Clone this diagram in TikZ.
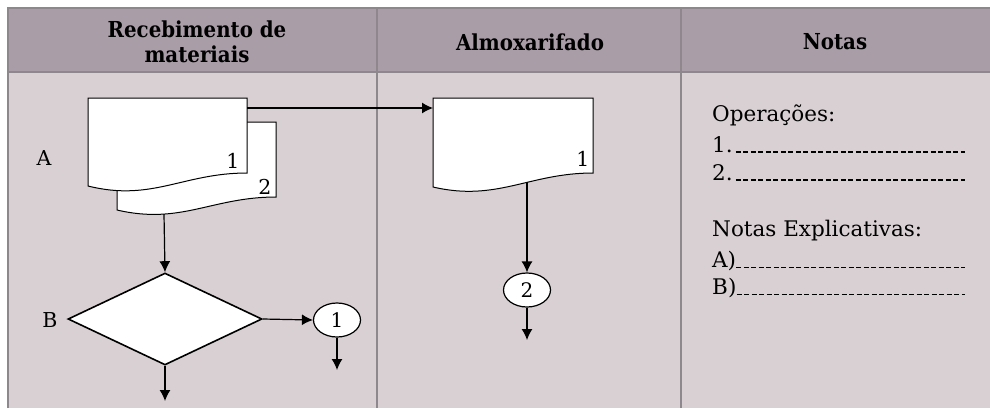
\documentclass[tikz,border=0pt]{standalone}
\usepackage{fontspec}
\setmainfont{DejaVu Serif}
\newfontfamily\headfont{DejaVu Serif Condensed}
\usepackage{xcolor}
\usetikzlibrary{shapes.geometric, arrows.meta, positioning}

\definecolor{headbg}{HTML}{A99DA7}
\definecolor{bodybg}{HTML}{D9D0D4}
\definecolor{rulegray}{HTML}{8E878C}

\tikzset{
  docshape/.style={draw=black, fill=white, line width=1pt},
  flow/.style={->, line width=1.2pt},
  decision/.style={diamond, draw, fill=white, line width=1.6pt, minimum width=194pt, minimum height=92pt, inner sep=0pt},
  connector/.style={ellipse, draw, fill=white, line width=1.2pt, minimum width=47pt, minimum height=34pt, inner sep=0pt, font=\fontsize{20}{20}\selectfont},
  headtxt/.style={align=center, font=\headfont\bfseries\fontsize{22}{25}\selectfont},
  notetxt/.style={anchor=base west, inner sep=0pt, font=\fontsize{21.5}{24}\selectfont},
  marktxt/.style={inner sep=0pt, font=\fontsize{20.5}{20}\selectfont},
  blank/.style={line width=1.4pt, dash pattern=on 5pt off 2.5pt},
  blankthin/.style={line width=1pt, dash pattern=on 5pt off 2.5pt},
}

\begin{document}
\begin{tikzpicture}[x=1pt, y=-1pt, >={Latex[length=11pt, width=11pt]}]
    \useasboundingbox (0,0) rectangle (990,408);

    % 1. Fundo, cabeçalho e colunas
    \fill[white] (0,0) rectangle (990,408);
    \fill[headbg] (8,8) rectangle (990,72);
    \fill[bodybg] (8,72) rectangle (990,408);
    \draw[rulegray, line width=1.5pt] (8,408) -- (8,8) -- (990,8);
    \draw[rulegray, line width=1.5pt] (8,72) -- (990,72);
    \draw[rulegray, line width=1.8pt] (377,8) -- (377,408);
    \draw[rulegray, line width=1.8pt] (681,8) -- (681,408);

    \node[headtxt] (hrec) at (197,42) {Recebimento de\\materiais};
    \node[headtxt] (halm) at (530,42) {Almoxarifado};
    \node[headtxt] (hnot) at (835,42) {Notas};

    % 2. Documento em duas vias (Recebimento)
    \draw[docshape] (117,122) -- (276,122) -- (276,197)
      .. controls (212,197) and (181,225) .. (117,210) -- cycle;
    \draw[docshape] (88,98) -- (247,98) -- (247,173)
      .. controls (183,173) and (152,202) .. (88,186) -- cycle;
    \node[marktxt] (via1) at (233,161) {1};
    \node[marktxt] (via2) at (265,187) {2};
    \node[marktxt] (lblA) at (44,158) {A};

    % 3. Decisão e conector 1
    \node[decision] (chk) at (165,319) {};
    \node[marktxt] (lblB) at (50,320) {B};
    \node[connector] (c1) at (337,320) {1};
    \coordinate (docbot) at (164,214);
    \coordinate (chkout) at (165,401);
    \coordinate (c1out) at (337,370);
    \draw[flow] (docbot) -- (chk.north);
    \draw[flow] (chk.east) -- (c1.west);
    \draw[flow] (c1.south) -- (c1out);
    \draw[flow] (chk.south) -- (chkout);

    % 4. Documento no Almoxarifado e conector 2
    \draw[docshape] (433,98) -- (593,98) -- (593,173)
      .. controls (529,173) and (497,202) .. (433,187) -- cycle;
    \node[marktxt] (alm1) at (583,159) {1};
    \coordinate (docout) at (247,108);
    \coordinate (almin) at (433,108);
    \coordinate (almbot) at (527,182);
    \draw[flow] (docout) -- (almin);
    \node[connector] (c2) at (527,290) {2};
    \coordinate (c2out) at (527,340);
    \draw[flow] (almbot) -- (c2.north);
    \draw[flow] (c2.south) -- (c2out);

    % 5. Notas
    \coordinate (rend) at (965,0);
    \node[notetxt] (ops) at (712,121) {Operações:};
    \node[notetxt] (op1) at (712,152) {1.};
    \node[notetxt] (op2) at (712,180) {2.};
    \node[notetxt] (exp) at (712,236) {Notas Explicativas:};
    \node[notetxt] (nA) at (712,267) {A)};
    \node[notetxt] (nB) at (712,294) {B)};
    \draw[blank] ([xshift=3pt]op1.base east) -- (rend |- op1.base east);
    \draw[blank] ([xshift=3pt]op2.base east) -- (rend |- op2.base east);
    \draw[blankthin] (nA.base east) -- (rend |- nA.base east);
    \draw[blankthin] (nB.base east) -- (rend |- nB.base east);

\end{tikzpicture}
\end{document}
